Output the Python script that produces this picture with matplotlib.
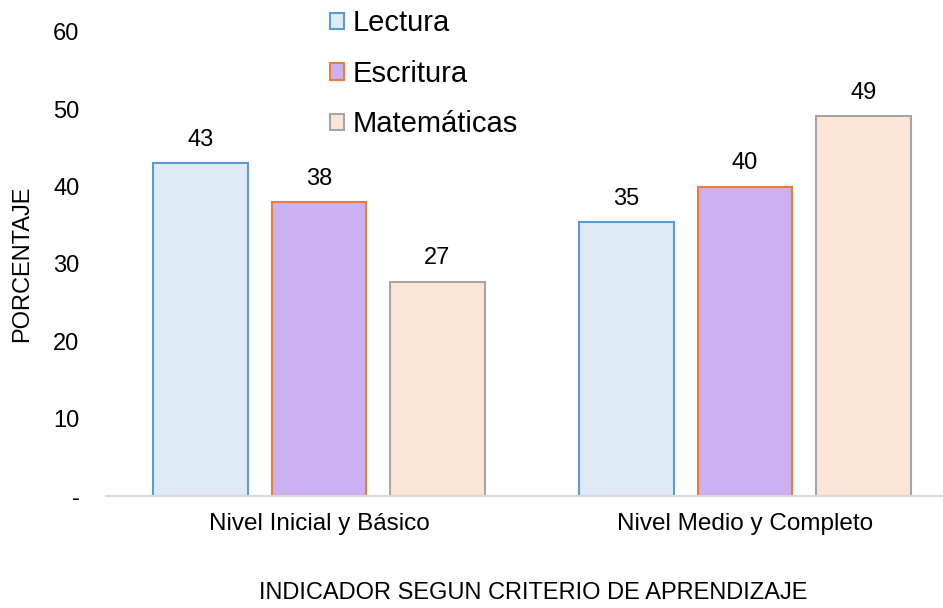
import matplotlib
matplotlib.use("Agg")
import matplotlib.pyplot as plt
import numpy as np

plt.rcParams['font.family'] = ['Liberation Sans', 'DejaVu Sans']

categories = ["Nivel Inicial y Básico", "Nivel Medio y Completo"]
series_names = ["Lectura", "Escritura", "Matemáticas"]
lectura = [43.0, 35.4]
escritura = [38.0, 40.0]
matematicas = [27.7, 49.1]
value_labels = [["43", "35"], ["38", "40"], ["27", "49"]]
yticks = [0, 10, 20, 30, 40, 50, 60]
ytick_labels = ["-", "10", "20", "30", "40", "50", "60"]

fills = ["#DEEBF7", "#CCB0F2", "#FBE5D6"]
edges = ["#5B9BD5", "#ED7D31", "#A5A5A5"]

fig = plt.figure(figsize=(9.43, 6.08), dpi=100)
ax = fig.add_axes([106/943, 1-496/608, (958-106)/943, (496-32)/608])

x = np.arange(len(categories))
width = 0.223
offsets = [-0.278, 0.0, 0.278]
handles = []
for i, vals in enumerate([lectura, escritura, matematicas]):
    bars = ax.bar(x + offsets[i], vals, width, color=fills[i], edgecolor=edges[i],
                  linewidth=1.5, label=series_names[i], zorder=2)
    handles.append(bars)
    for b, lab in zip(bars, value_labels[i]):
        ax.annotate(lab, (b.get_x() + b.get_width()/2, b.get_height()),
                    xytext=(0, 9), textcoords="offset points",
                    ha="center", va="bottom", fontsize=17, color="#000000")

ax.set_xlim(-0.5, 1.5)
ax.set_ylim(0, 60)
ax.set_yticks(yticks)
ax.set_yticklabels(ytick_labels, fontsize=17)
ax.set_xticks(x)
ax.set_xticklabels(categories, fontsize=17.5)
ax.tick_params(axis='y', length=0, pad=19)
ax.tick_params(axis='x', length=0, pad=12)
for s in ["top", "right", "left"]:
    ax.spines[s].set_visible(False)
ax.spines["bottom"].set_color("#D9D9D9")
ax.spines["bottom"].set_linewidth(1.5)

ax.set_ylabel("PORCENTAJE", fontsize=17)
fig.text(533/943, 1-593/608, "INDICADOR SEGUN CRITERIO DE APRENDIZAJE",
         ha="center", va="center", fontsize=17)
ax.yaxis.set_label_coords(-(106-33)/852, (496-264)/464)

fig.legend(handles=handles, labels=series_names, loc="upper left",
           bbox_to_anchor=(310/943, 1 + 11/608), frameon=False, fontsize=21,
           handlelength=0.47, handleheight=0.47, handletextpad=0.3,
           labelspacing=0.77, borderpad=0.2)

fig.savefig("out.png", dpi=100)
